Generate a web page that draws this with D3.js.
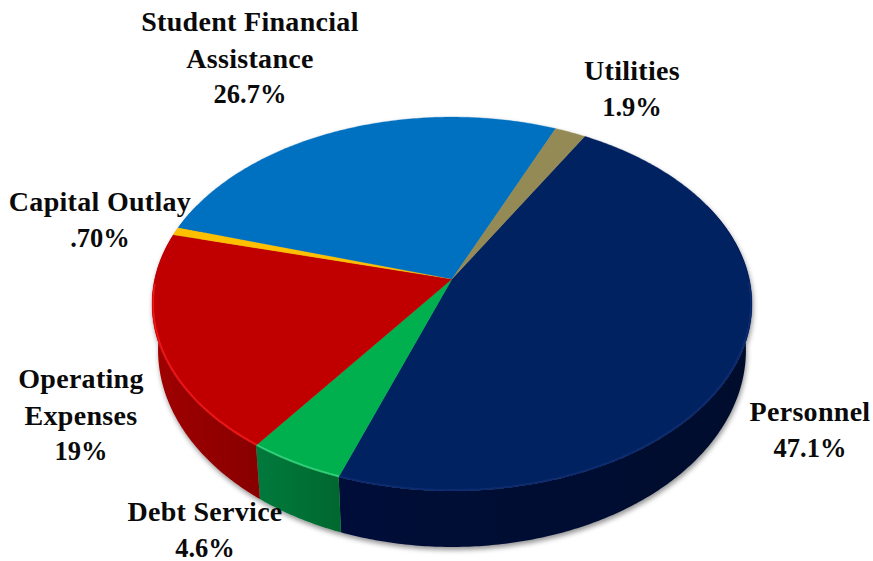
<!DOCTYPE html>
<html><head><meta charset="utf-8">
<script src="https://cdn.jsdelivr.net/npm/d3@7"></script>
<style>html,body{margin:0;padding:0;background:#fff}svg{display:block}
text{font-family:"Liberation Serif",serif;font-weight:700;fill:#0a0a0a;text-anchor:middle}
.name{font-size:28px;letter-spacing:0.3px}
.pct{font-size:26.5px}</style>
</head><body>
<script>
const categories = ["Personnel","Debt Service","Operating Expenses","Capital Outlay","Student Financial Assistance","Utilities"];
const shares = [47.1,4.6,19,0.7,26.7,1.9];
const shareLabels = ["47.1%","4.6%","19%",".70%","26.7%","1.9%"];
const topColors = ["#002060","#00B050","#C00000","#FFC000","#0070C0","#948A54"];
const wallLeft = ["#001038","#007a3c","#a00000","#b08000","#005090","#605830"];
const wallRight = ["#000e2c","#00682e","#880000","#b08000","#005090","#605830"];
const rimColors = ["#0c2c70","#35cf7a","#f01515","#ffd040","#2090e0","#b0a870"];
const labelLines = [["Personnel"],["Debt Service"],["Operating","Expenses"],["Capital Outlay"],["Student Financial","Assistance"],["Utilities"]];
const labelCentres = [[810,421],[205,521],[81,388],[100,211],[250,31],[632,80]];
const lineStep = 36.5;

const W=873,H=561;
const svg=d3.select("body").append("svg").attr("width",W).attr("height",H);
const defs=svg.append("defs");
const sh=defs.append("filter").attr("id","sh").attr("x","-10%").attr("y","-10%").attr("width","120%").attr("height","125%");
sh.append("feDropShadow").attr("dx",1).attr("dy",3).attr("stdDeviation",2.5).attr("flood-color","#000").attr("flood-opacity",0.42);
const bl=defs.append("filter").attr("id","bl");
bl.append("feGaussianBlur").attr("stdDeviation",0.6);

// perspective projection of the disc: top face and base face
const k=0.1337;
const topFace={cx:452,cy:279,a:297.3,b:183.6};
const baseFace={cx:452,cy:323.6,a:291.3,b:193.5};
const rotation=29.9*Math.PI/180;
const project=(f,t,r=1)=>{const u=r*Math.sin(t),v=-r*Math.cos(t),w=1-k*v;
  return [f.cx+f.a*u/w,f.cy+f.b*v/w];};
const arcs=d3.pie().sort(null).value(d=>d).startAngle(rotation).endAngle(rotation+2*Math.PI)(shares);
const line=d3.line();
const sweep=(a0,a1)=>{const n=Math.max(2,Math.ceil((a1-a0)/0.01));return d3.range(n+1).map(i=>a0+(a1-a0)*i/n);};
const visFrom=65*Math.PI/180, visTo=295*Math.PI/180;

const pie=svg.append("g").attr("filter","url(#sh)");
const walls=pie.append("g");
arcs.forEach((a,i)=>{
  const a0=Math.max(a.startAngle,visFrom), a1=Math.min(a.endAngle,visTo);
  if(a1<=a0) return;
  const ts=sweep(a0,a1);
  const topPts=ts.map(t=>project(topFace,t)), basePts=ts.map(t=>project(baseFace,t)).reverse();
  const xs=[...topPts,...basePts].map(p=>p[0]);
  const g=defs.append("linearGradient").attr("id","w"+i).attr("gradientUnits","userSpaceOnUse")
    .attr("x1",d3.min(xs)).attr("x2",d3.max(xs)).attr("y1",0).attr("y2",0);
  g.append("stop").attr("offset",0).attr("stop-color",wallLeft[i]);
  g.append("stop").attr("offset",1).attr("stop-color",wallRight[i]);
  walls.append("path").attr("d",line([...topPts,...basePts])+"Z").attr("fill",`url(#w${i})`);
});
const tops=pie.append("g");
arcs.forEach((a,i)=>{
  const ts=sweep(a.startAngle,a.endAngle);
  tops.append("path").attr("d",line([[topFace.cx,topFace.cy],...ts.map(t=>project(topFace,t))])+"Z")
    .attr("fill",topColors[i]).attr("stroke",topColors[i]).attr("stroke-width",0.3);
});
const rims=svg.append("g").attr("filter","url(#bl)");
arcs.forEach((a,i)=>{
  const ts=sweep(a.startAngle,a.endAngle).filter(t=>Math.cos(t)<-0.02);
  if(ts.length<2) return;
  rims.append("path").attr("d",line(ts.map(t=>project(topFace,t,0.996)))).attr("fill","none")
    .attr("stroke",rimColors[i]).attr("stroke-width",1.6).attr("stroke-linecap","butt");
});
const labels=svg.append("g");
categories.forEach((c,i)=>{
  const [x,y]=labelCentres[i];
  labelLines[i].forEach((s,j)=>labels.append("text").attr("class","name").attr("x",x).attr("y",y+j*lineStep).text(s));
  labels.append("text").attr("class","pct").attr("x",x).attr("y",y+labelLines[i].length*lineStep-1).text(shareLabels[i]);
});
</script>
</body></html>
